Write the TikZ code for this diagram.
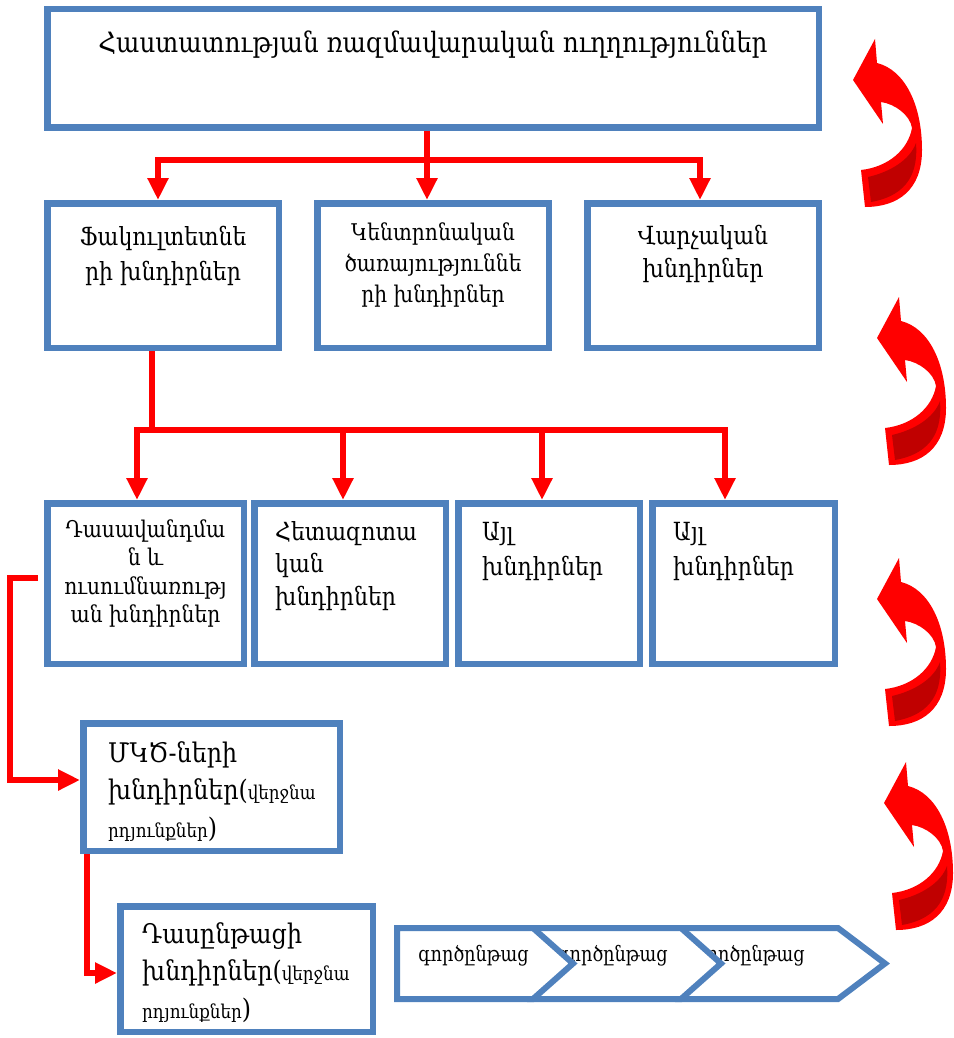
\documentclass[tikz,border=0pt]{standalone}
\usepackage{fontspec}
\setmainfont[FakeStretch=0.88]{DejaVu Serif}
\usetikzlibrary{arrows.meta}
\definecolor{boxblue}{HTML}{4F81BD}
\definecolor{flowred}{HTML}{FF0000}
\definecolor{shadered}{HTML}{C00000}
\tikzset{
  turnarrow/.pic={
    \fill[flowred] (12,127) -- (8,90) .. controls (35,87) and (55,70) .. (59,48)
      .. controls (57,35) and (42,24) .. (28,22) -- (30,44) -- (0,0) -- (22,-41) -- (24,-17)
      .. controls (52,-10) and (69,25) .. (69,70)
      .. controls (69,110) and (45,127) .. (12,127) -- cycle;
    \fill[shadered] (15,97) .. controls (37,92) and (57,80) .. (63,63)
      .. controls (65,90) and (57,115) .. (18,122) -- cycle;
  }
}
\newcommand{\parenfont}{\fontsize{19}{37.5}\selectfont}
\begin{document}
\begin{tikzpicture}[x=1pt,y=-1pt,
  box/.style={draw=boxblue, line width=6.5pt, fill=white, rectangle, inner sep=0pt},
  conn/.style={draw=flowred, line width=5.5pt},
  arr/.style={conn, -{Triangle[width=20pt,length=22pt]}},
  chev/.style={draw=boxblue, line width=6pt, fill=white, line join=miter},
  txt/.style={inner sep=0pt, anchor=base},
  ltxt/.style={inner sep=0pt, anchor=base west, align=left},
  chtxt/.style={font=\fontsize{21}{24}\selectfont\addfontfeature{FakeStretch=0.84}, inner sep=0pt, anchor=base east}]
\useasboundingbox (0,0) rectangle (953,1038);

% boxes
\node[box, minimum width=771.5pt, minimum height=118.5pt] (top) at (433,68.5) {};
\node[box, minimum width=231.5pt, minimum height=144.5pt] (fac) at (163,275.5) {};
\node[box, minimum width=231.5pt, minimum height=144.5pt] (cen) at (433,275.5) {};
\node[box, minimum width=231.5pt, minimum height=144.5pt] (adm) at (703,275.5) {};
\node[box, minimum width=196.5pt, minimum height=160.5pt] (da) at (145.5,583.5) {};
\node[box, minimum width=191.5pt, minimum height=160.5pt] (db) at (350,583.5) {};
\node[box, minimum width=181.5pt, minimum height=160.5pt] (dc) at (549,583.5) {};
\node[box, minimum width=182.5pt, minimum height=160.5pt] (dd) at (743.5,583.5) {};
\node[box, minimum width=256.5pt, minimum height=127.5pt] (mkc) at (211.5,787) {};
\node[box, minimum width=252.5pt, minimum height=125.5pt] (das) at (246.5,969) {};

% texts (each node is placed by the baseline of its last line)
\node[txt, font=\fontsize{28}{34}\selectfont] (top-t) at (433,53) {Հաստատության ռազմավարական ուղղություններ};
\node[txt, font=\fontsize{25}{35}\selectfont, align=center] (fac-t) at (163,280) {Ֆակուլտետնե\\րի խնդիրներ};
\node[txt, font=\fontsize{23}{31}\selectfont, align=center] (cen-t) at (433,302) {Կենտրոնական\\ծառայություննե\\րի խնդիրներ};
\node[txt, font=\fontsize{25}{33}\selectfont, align=center] (adm-t) at (703,277) {Վարչական\\խնդիրներ};
\node[txt, font=\fontsize{23}{28.5}\selectfont, align=center] (da-t) at (145.5,622.5) {Դասավանդմա\\ն և\\ուսումնառությ\\ան խնդիրներ};
\node[ltxt, font=\fontsize{25}{32.5}\selectfont] (db-t) at (275,605) {Հետազոտա\\կան\\խնդիրներ};
\node[ltxt, font=\fontsize{25}{35}\selectfont] (dc-t) at (482,575) {Այլ\\խնդիրներ};
\node[ltxt, font=\fontsize{25}{35}\selectfont] (dd-t) at (673,575) {Այլ\\խնդիրներ};
\node[ltxt, font=\fontsize{27}{37.5}\selectfont] (mkc-t) at (108,837)
  {ՄԿԾ-ների\\խնդիրներ({\parenfont վերջնա}\\{\parenfont րդյունքներ})};
\node[ltxt, font=\fontsize{27}{37.5}\selectfont] (das-t) at (142,1018)
  {Դասընթացի\\խնդիրներ({\parenfont վերջնա}\\{\parenfont րդյունքներ})};

% top level connectors
\coordinate (ja) at (158,160);
\coordinate (jb) at (427,160);
\coordinate (jc) at (700,160);
\draw[conn] (jb |- top.south) -- (jb);
\draw[arr] (jb) -- (ja) -- (ja |- fac.north);
\draw[arr] (jb) -- (jc) -- (jc |- adm.north);
\draw[arr] (jb) -- (jb |- cen.north);

% faculty level connectors
\coordinate (k0) at (152,430);
\coordinate (k1) at (137,430);
\coordinate (k2) at (343,430);
\coordinate (k3) at (542,430);
\coordinate (k4) at (725,430);
\draw[conn] (k0 |- fac.south) -- (k0);
\draw[arr] (k0) -- (k1) -- (k1 |- da.north);
\draw[arr] (k0) -- (k4) -- (k4 |- dd.north);
\draw[arr] (k2) -- (k2 |- db.north);
\draw[arr] (k3) -- (k3 |- dc.north);

% teaching branch
\coordinate (l0) at (38,578);
\coordinate (l1) at (10,578);
\coordinate (l2) at (10,780);
\draw[arr] (l0) -- (l1) -- (l2) -- (l2 -| mkc.west);
\coordinate (m0) at (87,973);
\draw[arr] (m0 |- mkc.south) -- (m0) -- (m0 -| das.west);

% process chevrons, back to front
\draw[chev] (678,928) -- (838,928) -- (885,963.5) -- (838,999) -- (678,999) -- cycle;
\node[chtxt] (g3) at (805,961) {գործընթաց};
\draw[chev] (530,928) -- (681,928) -- (721,963.5) -- (681,999) -- (530,999) -- cycle;
\node[chtxt] (g2) at (668,961) {գործընթաց};
\draw[chev] (397,928) -- (533,928) -- (573,963.5) -- (533,999) -- (397,999) -- cycle;
\node[chtxt] (g1) at (529,961) {գործընթաց};

% cycle arrows on the right
\pic at (853,80) {turnarrow};
\pic at (877,338) {turnarrow};
\pic at (877,599) {turnarrow};
\pic at (884,803) {turnarrow};
\end{tikzpicture}
\end{document}
